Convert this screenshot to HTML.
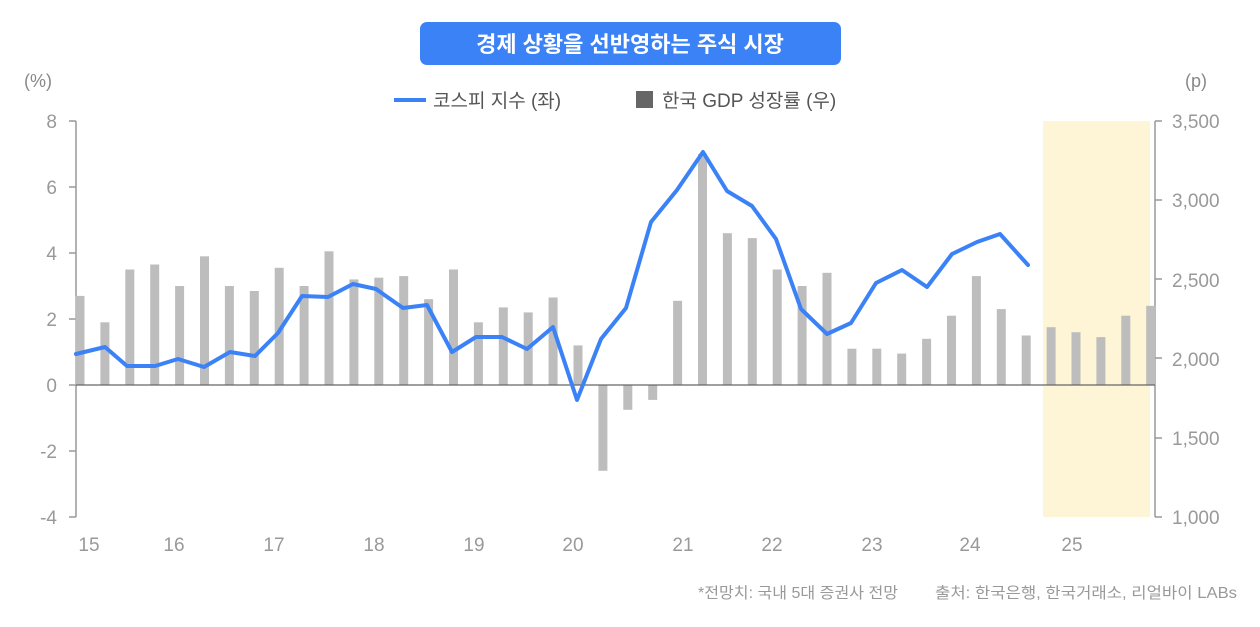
<!DOCTYPE html>
<html><head><meta charset="utf-8"><style>
body{margin:0;background:#fff;}
svg text{font-family:"Liberation Sans","Noto Sans CJK KR",sans-serif;}
</style></head><body>
<svg width="1260" height="622" viewBox="0 0 1260 622" xmlns="http://www.w3.org/2000/svg">
<rect x="1043" y="121" width="107" height="396" fill="#fdf5d6"/>
<rect x="420" y="22" width="421" height="43" rx="7" fill="#3b82f6"/>
<text x="630" y="52" font-size="22" font-weight="bold" fill="#fff" text-anchor="middle">경제 상황을 선반영하는 주식 시장</text>
<text x="38" y="87" font-size="18" fill="#888" text-anchor="middle">(%)</text>
<text x="1196" y="87" font-size="18" fill="#888" text-anchor="middle">(p)</text>
<line x1="394" y1="100" x2="426" y2="100" stroke="#3b82f6" stroke-width="4"/>
<text x="433" y="107" font-size="19" fill="#555">코스피 지수 (좌)</text>
<rect x="636" y="91" width="17" height="17" fill="#666"/>
<text x="662" y="107" font-size="19" fill="#555">한국 GDP 성장률 (우)</text>
<g font-size="19" fill="#999" text-anchor="end">
<text x="57" y="128">8</text><text x="57" y="194">6</text><text x="57" y="260">4</text><text x="57" y="326">2</text><text x="57" y="392">0</text><text x="57" y="458">-2</text><text x="57" y="524">-4</text>
</g>
<g font-size="19" fill="#999" text-anchor="start">
<text x="1172" y="128">3,500</text><text x="1172" y="207">3,000</text><text x="1172" y="287">2,500</text><text x="1172" y="366">2,000</text><text x="1172" y="445">1,500</text><text x="1172" y="524">1,000</text>
</g>
<g stroke="#999" stroke-width="1.5">
<line x1="76" y1="121" x2="76" y2="517"/><line x1="1155" y1="121" x2="1155" y2="517"/>
<line x1="69" y1="121" x2="76" y2="121"/><line x1="69" y1="187" x2="76" y2="187"/><line x1="69" y1="253" x2="76" y2="253"/><line x1="69" y1="319" x2="76" y2="319"/><line x1="69" y1="385" x2="76" y2="385"/><line x1="69" y1="451" x2="76" y2="451"/><line x1="69" y1="517" x2="76" y2="517"/>
<line x1="1155" y1="121" x2="1162" y2="121"/><line x1="1155" y1="200" x2="1162" y2="200"/><line x1="1155" y1="279" x2="1162" y2="279"/><line x1="1155" y1="358" x2="1162" y2="358"/><line x1="1155" y1="438" x2="1162" y2="438"/><line x1="1155" y1="517" x2="1162" y2="517"/>
</g>
<g fill="#bdbdbd">
<rect x="75.5" y="295.9" width="9" height="89.1"/>
<rect x="100.4" y="322.3" width="9" height="62.7"/>
<rect x="125.3" y="269.5" width="9" height="115.5"/>
<rect x="150.2" y="264.5" width="9" height="120.5"/>
<rect x="175.1" y="286" width="9" height="99"/>
<rect x="200" y="256.3" width="9" height="128.7"/>
<rect x="224.9" y="286" width="9" height="99"/>
<rect x="249.8" y="291" width="9" height="94"/>
<rect x="274.7" y="267.8" width="9" height="117.2"/>
<rect x="299.6" y="286" width="9" height="99"/>
<rect x="324.5" y="251.3" width="9" height="133.7"/>
<rect x="349.4" y="279.4" width="9" height="105.6"/>
<rect x="374.3" y="277.7" width="9" height="107.3"/>
<rect x="399.2" y="276.1" width="9" height="108.9"/>
<rect x="424.1" y="299.2" width="9" height="85.8"/>
<rect x="449" y="269.5" width="9" height="115.5"/>
<rect x="473.9" y="322.3" width="9" height="62.7"/>
<rect x="498.8" y="307.4" width="9" height="77.6"/>
<rect x="523.7" y="312.4" width="9" height="72.6"/>
<rect x="548.6" y="297.5" width="9" height="87.5"/>
<rect x="573.5" y="345.4" width="9" height="39.6"/>
<rect x="598.4" y="385" width="9" height="85.8"/>
<rect x="623.3" y="385" width="9" height="24.8"/>
<rect x="648.2" y="385" width="9" height="14.9"/>
<rect x="673.1" y="300.8" width="9" height="84.2"/>
<rect x="698" y="154" width="9" height="231"/>
<rect x="722.9" y="233.2" width="9" height="151.8"/>
<rect x="747.8" y="238.1" width="9" height="146.9"/>
<rect x="772.7" y="269.5" width="9" height="115.5"/>
<rect x="797.6" y="286" width="9" height="99"/>
<rect x="822.5" y="272.8" width="9" height="112.2"/>
<rect x="847.4" y="348.7" width="9" height="36.3"/>
<rect x="872.3" y="348.7" width="9" height="36.3"/>
<rect x="897.2" y="353.6" width="9" height="31.4"/>
<rect x="922.1" y="338.8" width="9" height="46.2"/>
<rect x="947" y="315.7" width="9" height="69.3"/>
<rect x="971.9" y="276.1" width="9" height="108.9"/>
<rect x="996.8" y="309.1" width="9" height="75.9"/>
<rect x="1021.7" y="335.5" width="9" height="49.5"/>
<rect x="1046.6" y="327.2" width="9" height="57.8"/>
<rect x="1071.5" y="332.2" width="9" height="52.8"/>
<rect x="1096.4" y="337.1" width="9" height="47.9"/>
<rect x="1121.3" y="315.7" width="9" height="69.3"/>
<rect x="1146.2" y="305.8" width="9" height="79.2"/>
</g>
<line x1="76" y1="385" x2="1155" y2="385" stroke="#666" stroke-width="1.2"/>
<polyline fill="none" stroke="#3b82f6" stroke-width="4" stroke-linejoin="round" stroke-linecap="round" points="76,354 105,347 127,366 155,366 178,359 204,367 230,352 255,356 278,333 302,296 328,297 353,284 376,289 403,308 427,305 452,352 476,337 502,337 527,349 553,327 577,400 601,339 626,308 651,222 677,190 703,152 727,191 752,206 776,239 801,309 827,334 851,323 876,283 902,270 927,287 952,254 977,242 1000,234 1028,265"/>
<g font-size="19" fill="#999" text-anchor="middle">
<text x="89" y="551">15</text><text x="174" y="551">16</text><text x="274" y="551">17</text><text x="374" y="551">18</text><text x="474" y="551">19</text><text x="573" y="551">20</text><text x="683" y="551">21</text><text x="772" y="551">22</text><text x="872" y="551">23</text><text x="970" y="551">24</text><text x="1072" y="551">25</text>
</g>
<text x="698" y="598" font-size="15.5" fill="#999" textLength="200" lengthAdjust="spacingAndGlyphs">*전망치: 국내 5대 증권사 전망</text>
<text x="935" y="598" font-size="15.5" fill="#999" textLength="302" lengthAdjust="spacingAndGlyphs">출처: 한국은행, 한국거래소, 리얼바이 LABs</text>
</svg>
</body></html>
